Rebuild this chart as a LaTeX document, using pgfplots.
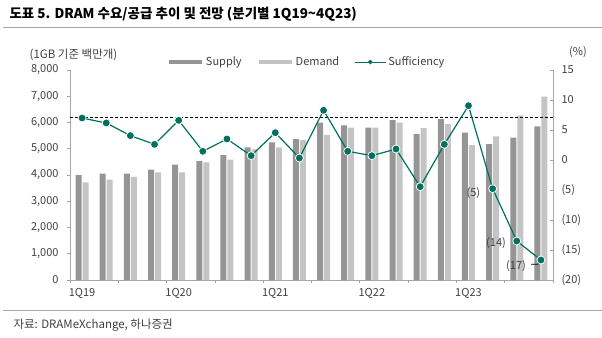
\documentclass[border=0pt]{standalone}
\usepackage{fontspec}
\setmainfont{Noto Sans CJK KR}
\usepackage{pgfplots}
\usepackage{pgfplotstable}
\pgfplotsset{compat=1.18}
\definecolor{supc}{HTML}{959595}
\definecolor{demc}{HTML}{C4C4C4}
\definecolor{tealc}{HTML}{00705E}
\definecolor{axc}{HTML}{A6A6A6}
\definecolor{txt}{HTML}{404040}

\pgfplotstableread{
x sup dem suf
0 4000 3720 7.0
1 4050 3823 6.17
2 4050 3924 4.06
3 4203 4102 2.61
4 4393 4102 6.61
5 4533 4483 1.45
6 4762 4584 3.5
7 5055 4979 0.72
8 5245 5055 4.55
9 5371 5333 0.33
10 5994 5524 8.28
11 5893 5803 1.45
12 5803 5803 0.72
13 6095 5994 1.83
14 5562 5790 -4.45
15 6133 5943 2.61
16 5613 5143 9.05
17 5181 5473 -4.78
18 5422 6274 -13.5
19 5851 6983 -16.67
}\datatable

\begin{document}
\begin{tikzpicture}[font=\fontsize{11bp}{13bp}\selectfont]
\path[use as bounding box] (0,0) rectangle (602bp,338bp);
\node[anchor=west, font=\fontsize{13.5bp}{15bp}\selectfont\bfseries] at (6bp,324bp) {도표 5. DRAM 수요/공급 추이 및 전망 (분기별 1Q19\textasciitilde 4Q23)};
\draw[axc, line width=1bp] (3bp,310bp) -- (602bp,310bp);
\draw[axc, line width=1bp] (3bp,27bp) -- (602bp,27bp);
\node[anchor=west, font=\fontsize{11.5bp}{13bp}\selectfont, txt] at (10bp,13bp) {자료: DRAMeXchange, 하나증권};
\node[txt, font=\fontsize{11.5bp}{13bp}\selectfont] at (73.5bp,283bp) {(1GB 기준 백만개)};
\node[txt] at (578bp,286bp) {(\%)};

\begin{axis}[at={(70bp,58bp)}, anchor=south west, width=483bp, height=210bp, scale only axis,
  xmin=-0.5, xmax=19.5, ymin=0, ymax=8000,
  axis x line*=bottom, axis y line*=left,
  axis line style={axc, line width=0.8bp},
  ytick={0,1000,...,8000},
  yticklabel style={/pgf/number format/1000 sep={,}, /pgf/number format/assume math mode=true, txt, xshift=-5bp},
  xtick={-0.5,1.5,...,19.5}, xticklabels={},
  extra x ticks={0,4,8,12,16}, extra x tick labels={1Q19,1Q20,1Q21,1Q22,1Q23},
  extra x tick style={major tick length=0pt, xticklabel style={txt, yshift=-5bp}},
  tick style={axc, line width=0.8bp}, major tick length=3bp, tick align=outside,
  clip=false]
\addplot[ybar, bar width=6bp, bar shift=-3.5bp, fill=supc, draw=none] table[x=x,y=sup]{\datatable};
\addplot[ybar, bar width=6bp, bar shift=3.5bp, fill=demc, draw=none] table[x=x,y=dem]{\datatable};
\addplot[black, line width=0.8bp, dash pattern=on 3bp off 2bp] coordinates {(-0.5,6180) (19.5,6180)};
\end{axis}

\begin{axis}[at={(70bp,58bp)}, anchor=south west, width=483bp, height=210bp, scale only axis,
  xmin=-0.5, xmax=19.5, ymin=-20, ymax=15,
  axis x line=none, axis y line*=right,
  axis line style={axc, line width=0.8bp},
  ytick={-20,-15,...,15}, yticklabels={(20),(15),(10),(5),0,5,10,15},
  yticklabel style={txt, xshift=5bp},
  tick style={axc, line width=0.8bp}, major tick length=3bp, tick align=inside,
  clip=false,
  legend style={at={(0.2008,1.038)}, anchor=west, draw=none, fill=none, inner sep=0pt, outer sep=0pt,
    legend columns=3, nodes={inner sep=2bp, txt},
    /tikz/every even column/.append style={column sep=13bp}}]
\addlegendimage{legend image code/.code={\draw[supc, line width=4bp] (0bp,0bp) -- (33bp,0bp);}}
\addlegendentry{Supply}
\addlegendimage{legend image code/.code={\draw[demc, line width=4bp] (0bp,0bp) -- (33bp,0bp);}}
\addlegendentry{Demand}
\addplot[tealc, line width=1.2bp, mark=*, mark size=4bp, mark options={fill=tealc, draw=white, line width=0.8bp},
  legend image code/.code={\draw[tealc, line width=1bp] (0bp,0bp) -- (31bp,0bp); \fill[tealc] (15.5bp,0bp) circle (1.6bp);}]
  table[x=x,y=suf]{\datatable};
\addlegendentry{Sufficiency}
\node[txt] at (axis cs:16.2,-5.45) {(5)};
\node[txt] at (axis cs:17.14,-13.8) {(14)};
\node[txt] at (axis cs:17.97,-17.67) {(17)};
\draw[black, line width=0.8bp] (axis cs:18.59,-17.38) -- (axis cs:18.87,-17.38) -- (axis cs:19,-16.67);
\end{axis}
\end{tikzpicture}
\end{document}
